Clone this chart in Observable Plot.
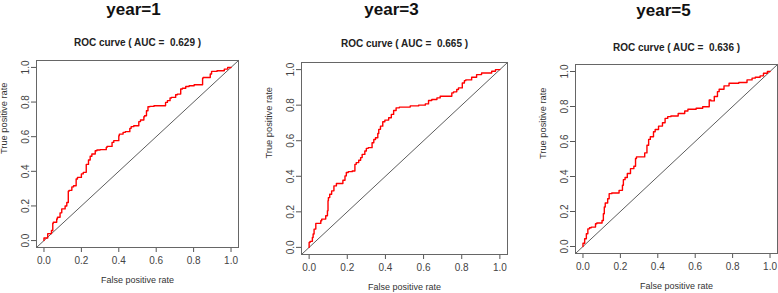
<!DOCTYPE html>
<html>
<head>
<meta charset="utf-8">
<script src="https://cdn.jsdelivr.net/npm/d3@7"></script>
<script src="https://cdn.jsdelivr.net/npm/@observablehq/plot@0.6"></script>
<style>
  body { margin: 0; background: #fff; }
  #wrap { position: relative; width: 778px; height: 293px; overflow: hidden; background: #fff; }
  .panel { position: absolute; top: 0; }
</style>
</head>
<body>
<div id="wrap"></div>
<script>
// ---------- data ----------
const panelTitles = ["year=1", "year=3", "year=5"];
const aucValues = ["0.629", "0.665", "0.636"];
const xLabel = "False positive rate";
const yLabel = "True positive rate";
const tickValues = [0, 0.2, 0.4, 0.6, 0.8, 1.0];
const axisDomain = [-0.04, 1.04];

const fpr1 = [0, 0.02, 0.04, 0.047, 0.05, 0.068, 0.072, 0.086, 0.095, 0.113, 0.122, 0.13, 0.134, 0.149, 0.158, 0.172, 0.179, 0.2, 0.21, 0.226, 0.238, 0.247, 0.256, 0.274, 0.283, 0.3, 0.333, 0.337, 0.364, 0.373, 0.4, 0.403, 0.423, 0.435, 0.459, 0.466, 0.48, 0.507, 0.516, 0.534, 0.538, 0.548, 0.556, 0.566, 0.588, 0.65, 0.66, 0.674, 0.681, 0.704, 0.713, 0.731, 0.74, 0.758, 0.776, 0.803, 0.848, 0.851, 0.889, 0.896, 0.925, 0.964, 0.982, 1];
const tpr1 = [0, 0.015, 0.04, 0.058, 0.1, 0.106, 0.125, 0.135, 0.16, 0.183, 0.2, 0.22, 0.285, 0.29, 0.31, 0.317, 0.356, 0.365, 0.385, 0.394, 0.44, 0.465, 0.487, 0.5, 0.519, 0.523, 0.525, 0.538, 0.544, 0.567, 0.577, 0.606, 0.615, 0.625, 0.629, 0.648, 0.658, 0.663, 0.687, 0.696, 0.715, 0.721, 0.75, 0.773, 0.775, 0.779, 0.798, 0.808, 0.823, 0.827, 0.842, 0.846, 0.875, 0.88, 0.89, 0.894, 0.9, 0.938, 0.942, 0.962, 0.977, 0.981, 0.99, 1];

const fpr3 = [0, 0.005, 0.017, 0.021, 0.026, 0.035, 0.038, 0.061, 0.066, 0.087, 0.096, 0.099, 0.101, 0.108, 0.118, 0.13, 0.143, 0.153, 0.177, 0.188, 0.195, 0.205, 0.226, 0.24, 0.247, 0.26, 0.27, 0.278, 0.292, 0.3, 0.31, 0.33, 0.339, 0.348, 0.36, 0.365, 0.374, 0.386, 0.397, 0.417, 0.431, 0.443, 0.456, 0.473, 0.496, 0.53, 0.574, 0.609, 0.626, 0.643, 0.67, 0.687, 0.704, 0.748, 0.757, 0.774, 0.783, 0.803, 0.814, 0.821, 0.852, 0.878, 0.904, 0.93, 0.957, 0.977, 1];
const tpr3 = [0, 0.028, 0.034, 0.056, 0.075, 0.103, 0.135, 0.135, 0.15, 0.159, 0.178, 0.206, 0.262, 0.28, 0.299, 0.318, 0.346, 0.359, 0.359, 0.378, 0.402, 0.421, 0.426, 0.43, 0.467, 0.477, 0.49, 0.505, 0.523, 0.542, 0.557, 0.561, 0.589, 0.607, 0.617, 0.641, 0.664, 0.682, 0.707, 0.716, 0.729, 0.748, 0.77, 0.785, 0.789, 0.789, 0.796, 0.8, 0.807, 0.826, 0.832, 0.841, 0.85, 0.85, 0.869, 0.875, 0.888, 0.897, 0.925, 0.938, 0.942, 0.957, 0.972, 0.981, 0.981, 0.991, 1];

const fpr5 = [0, 0.009, 0.018, 0.026, 0.035, 0.044, 0.067, 0.074, 0.102, 0.109, 0.114, 0.119, 0.132, 0.14, 0.154, 0.167, 0.193, 0.211, 0.216, 0.225, 0.237, 0.254, 0.272, 0.281, 0.286, 0.298, 0.33, 0.342, 0.351, 0.36, 0.377, 0.386, 0.404, 0.425, 0.439, 0.453, 0.47, 0.509, 0.544, 0.561, 0.605, 0.64, 0.675, 0.684, 0.702, 0.719, 0.728, 0.754, 0.781, 0.798, 0.833, 0.877, 0.904, 0.921, 0.947, 0.965, 0.986, 1];
const tpr5 = [0, 0.019, 0.044, 0.073, 0.101, 0.107, 0.111, 0.13, 0.134, 0.149, 0.187, 0.226, 0.249, 0.273, 0.302, 0.306, 0.306, 0.321, 0.35, 0.382, 0.394, 0.417, 0.445, 0.459, 0.503, 0.512, 0.512, 0.535, 0.579, 0.612, 0.627, 0.656, 0.669, 0.688, 0.707, 0.732, 0.742, 0.746, 0.76, 0.774, 0.784, 0.79, 0.799, 0.837, 0.832, 0.857, 0.885, 0.899, 0.918, 0.933, 0.933, 0.937, 0.952, 0.962, 0.967, 0.975, 0.99, 1];

const series = [[fpr1, tpr1], [fpr3, tpr3], [fpr5, tpr5]];

// ---------- layout (positions only) ----------
const layout = [
  {left: 0,   width: 260, mL: 36, mR: 22, mT: 60, mB: 46, titleDx: -4,  titleDy: -51, subDy: -18},
  {left: 258, width: 262, mL: 43, mR: 13, mT: 62, mB: 39, titleDx: -13, titleDy: -53, subDy: -19},
  {left: 518, width: 260, mL: 57, mR: 1,  mT: 64, mB: 40, titleDx: -13, titleDy: -54, subDy: -17}
];

const font = "'Liberation Sans', Arial, Helvetica, sans-serif";
const wrap = document.getElementById("wrap");

layout.forEach((L, i) => {
  const [fx, fy] = series[i];
  const idx = d3.range(fx.length);
  const chart = Plot.plot({
    width: L.width,
    height: 293,
    marginLeft: L.mL, marginRight: L.mR, marginTop: L.mT, marginBottom: L.mB,
    style: {fontFamily: font, fontSize: "10px", color: "#333", background: "transparent", overflow: "visible"},
    x: {domain: axisDomain},
    y: {domain: axisDomain},
    marks: [
      Plot.axisX({ticks: tickValues, tickFormat: d3.format(".1f"), tickSize: 5, tickPadding: 4, label: null, stroke: "#555", fill: "#444", fontSize: 10}),
      Plot.axisY({ticks: tickValues, tickFormat: d3.format(".1f"), tickSize: 5, tickPadding: 3, tickRotate: -90, label: null, stroke: "#555", fill: "#444", fontSize: 10}),
      Plot.line(axisDomain, {x: d => d, y: d => d, stroke: "#333", strokeWidth: 0.8}),
      Plot.line(idx, {x: fx, y: fy, stroke: "#ff0000", strokeWidth: 1.4, curve: "step-before"}),
      Plot.frame({stroke: "#666", strokeWidth: 1}),
      Plot.text([panelTitles[i]], {text: d => d, frameAnchor: "top", dx: L.titleDx, dy: L.titleDy, fontSize: 17, fontWeight: "bold", fill: "#111", lineAnchor: "middle"}),
      Plot.text([`ROC curve ( AUC =  ${aucValues[i]} )`], {text: d => d, frameAnchor: "top", dy: L.subDy, fontSize: 10, fontWeight: "bold", fill: "#222", lineAnchor: "middle"}),
      Plot.text([xLabel], {text: d => d, frameAnchor: "bottom", dy: 32.5, fontSize: 9, fill: "#333", lineAnchor: "middle"}),
      Plot.text([yLabel], {text: d => d, frameAnchor: "left", dx: -32.5, rotate: -90, fontSize: 9.3, fill: "#333", lineAnchor: "middle"})
    ]
  });
  const div = document.createElement("div");
  div.className = "panel";
  div.style.left = L.left + "px";
  div.appendChild(chart);
  wrap.appendChild(div);
});
</script>
</body>
</html>
